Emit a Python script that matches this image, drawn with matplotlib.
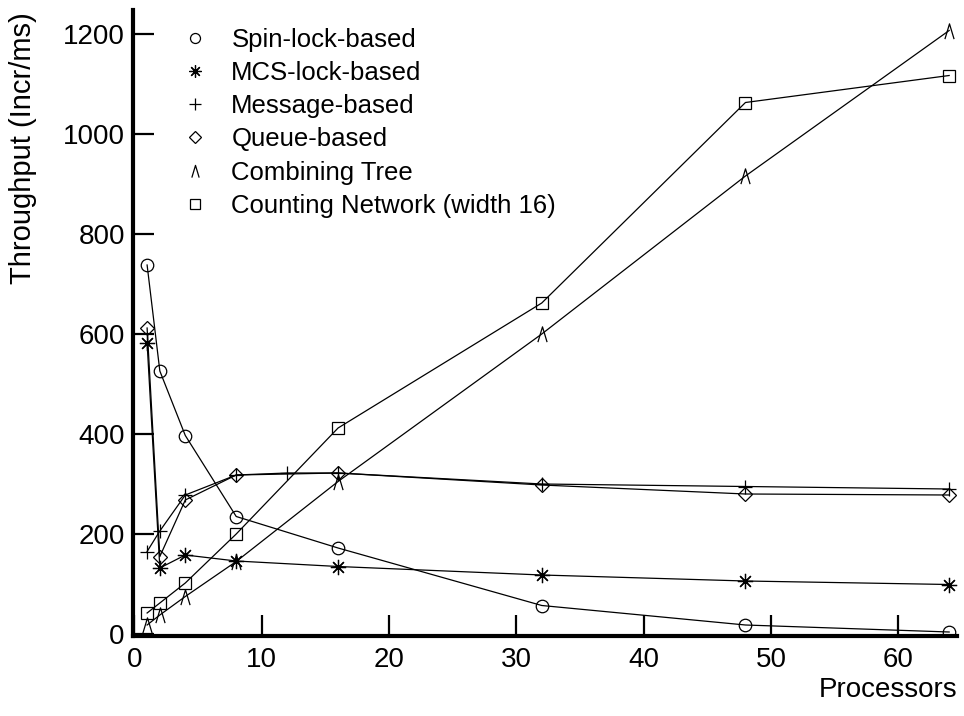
import matplotlib
matplotlib.use("Agg")
import matplotlib.pyplot as plt
from matplotlib.lines import Line2D
from matplotlib.path import Path

plt.rcParams['font.family'] = ['Liberation Sans', 'DejaVu Sans']

# ---- data ----
processors = [1, 2, 4, 8, 16, 32, 48, 64]
spin_lock = [738, 526, 397, 235, 172, 57, 18, 4]
mcs_lock = [582, 132, 158, 146, 135, 118, 106, 99]
msg_x = [1, 2, 4, 8, 12, 16, 32, 48, 64]
message = [165, 206, 278, 318, 322, 322, 300, 295, 290]
queue = [612, 155, 268, 318, 322, 298, 280, 278]
combining = [18, 38, 75, 145, 305, 600, 916, 1207]
counting = [42, 62, 102, 200, 412, 662, 1063, 1117]

labels = ["Spin-lock-based", "MCS-lock-based", "Message-based",
          "Queue-based", "Combining Tree", "Counting Network (width 16)"]
xticks = [0, 10, 20, 30, 40, 50, 60]
yticks = [0, 200, 400, 600, 800, 1000, 1200]

caret = Path([(-0.6, -1.0), (0.0, 1.0), (0.6, -1.0)],
             [Path.MOVETO, Path.LINETO, Path.LINETO])

fig = plt.figure(figsize=(9.64, 7.16), dpi=100)
ax = fig.add_axes([133.1 / 964, (716 - 636) / 716, 823.7 / 964, 626 / 716])

common = dict(color='black', lw=0.9, mfc='none', mec='black', mew=0.9)
styles = [
    dict(marker='o', ms=9),
    dict(marker=(8, 2, 0), ms=11),
    dict(marker='+', ms=10),
    dict(marker='D', ms=7.5),
    dict(marker=caret, ms=11),
    dict(marker='s', ms=8.5),
]
ax.plot(processors, spin_lock, **common, **styles[0])
ax.plot(processors, mcs_lock, **common, **styles[1])
ax.plot(msg_x, message, **common, **styles[2])
ax.plot(processors, queue, **common, **styles[3])
ax.plot(processors, combining, **common, **styles[4])
ax.plot(processors, counting, **common, **styles[5])

ax.set_xlim(-0.1, 64.6)
ax.set_ylim(-4, 1248)
ax.set_xticks(xticks)
ax.set_yticks(yticks)
for s in ['top', 'right']:
    ax.spines[s].set_visible(False)
for s in ['left', 'bottom']:
    ax.spines[s].set_linewidth(3)
ax.tick_params(axis='both', direction='in', length=15, width=1.6,
               labelsize=20, colors='black')
ax.tick_params(axis='x', pad=8)
ax.tick_params(axis='y', pad=6)

leg_styles = [dict(st) for st in styles]
for st in leg_styles:
    st['ms'] = st['ms'] * 0.8
handles = [Line2D([], [], ls='none', **{k: v for k, v in common.items() if k != 'lw'}, **st)
           for st in leg_styles]
ax.legend(handles, labels, loc='upper left', bbox_to_anchor=(0.06, 0.972),
          frameon=False, fontsize=18.5, handlelength=1.0, handletextpad=0.9,
          labelspacing=0.36, borderpad=0, borderaxespad=0)

fig.text(23 / 964, 1 - 148 / 716, "Throughput (Incr/ms)", rotation=90,
         ha='center', va='center', fontsize=21)
fig.text(957 / 964, 1 - 690 / 716, "Processors", ha='right', va='center',
         fontsize=20)

fig.savefig("out.png", dpi=100)
